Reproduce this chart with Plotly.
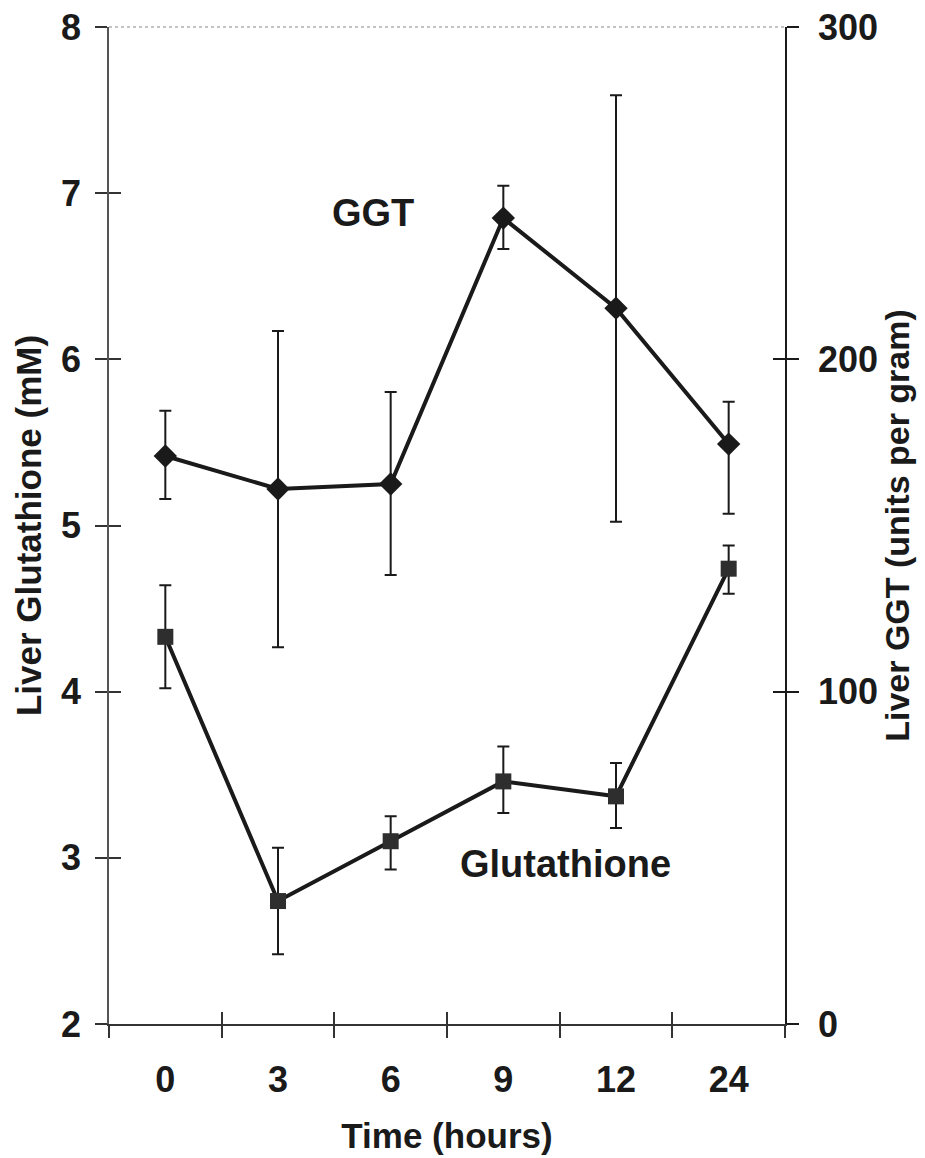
import plotly.graph_objects as go

# time points (hours), shown as evenly spaced categories
hours = ["0", "3", "6", "9", "12", "24"]
pos = [0, 1, 2, 3, 4, 5]

# liver glutathione (mM), left axis
gsh = [4.33, 2.74, 3.10, 3.46, 3.37, 4.74]
gsh_up = [0.31, 0.32, 0.15, 0.21, 0.20, 0.14]
gsh_down = [0.31, 0.32, 0.17, 0.19, 0.19, 0.15]

# liver GGT (units per gram), right axis
ggt = [170.9, 161.0, 162.5, 242.5, 215.4, 174.5]
ggt_up = [13.6, 47.5, 27.7, 9.7, 64.1, 12.7]
ggt_down = [12.9, 47.6, 27.4, 9.3, 64.3, 21.0]

left_ticks = [2, 3, 4, 5, 6, 7, 8]
right_ticks = [0, 100, 200, 300]
bounds = [-0.5, 0.5, 1.5, 2.5, 3.5, 4.5, 5.5]

FONT = "Liberation Sans, Arial, sans-serif"
INK = "#1a1a1a"

fig = go.Figure()

fig.add_trace(go.Scatter(
    x=pos, y=gsh, mode="lines+markers", name="Glutathione",
    line=dict(color=INK, width=4),
    marker=dict(symbol="square", size=16, color="#2e2e2e"),
    error_y=dict(type="data", symmetric=False, array=gsh_up, arrayminus=gsh_down,
                 color=INK, thickness=2, width=6),
    xaxis="x", yaxis="y",
))
fig.add_trace(go.Scatter(
    x=pos, y=ggt, mode="lines+markers", name="GGT",
    line=dict(color=INK, width=4),
    marker=dict(symbol="diamond", size=18, color=INK),
    error_y=dict(type="data", symmetric=False, array=ggt_up, arrayminus=ggt_down,
                 color=INK, thickness=2, width=6),
    xaxis="x", yaxis="y2",
))
# invisible helpers so the overlay axes (inward tick halves) get drawn
fig.add_trace(go.Scatter(x=[None], y=[None], xaxis="x2", yaxis="y3", showlegend=False))
fig.add_trace(go.Scatter(x=[None], y=[None], xaxis="x2", yaxis="y4", showlegend=False))

fig.add_annotation(x=1.84, y=6.88, xref="x", yref="y", text="<b>GGT</b>",
                   showarrow=False, font=dict(family=FONT, size=38, color=INK))
fig.add_annotation(x=3.55, y=2.96, xref="x", yref="y", text="<b>Glutathione</b>",
                   showarrow=False, font=dict(family=FONT, size=38, color=INK))

# dotted top border
fig.add_shape(type="line", xref="paper", yref="paper", x0=0, x1=1, y0=1, y1=1,
              line=dict(color="#888888", width=1, dash="dot"))

# page body adds an 8px margin, so the figure is 8px smaller than the window
fig.update_layout(
    width=917, height=1150,
    margin=dict(l=101, r=140, t=19, b=134),
    paper_bgcolor="white", plot_bgcolor="white",
    showlegend=False,
    font=dict(family=FONT, color=INK),
    xaxis=dict(
        range=[-0.5, 5.5], tickvals=pos, ticktext=[f"<b>{h}</b>" for h in hours],
        ticks="", showgrid=False, zeroline=False, automargin=False,
        showline=True, linecolor="#333333", linewidth=1.5,
        tickfont=dict(size=36), ticklabelstandoff=23, ticklabeloverflow="allow",
        minor=dict(tickvals=bounds, ticks="outside", ticklen=12, tickcolor="#333333", tickwidth=1.5),
        title=dict(text="<b>Time (hours)</b>", font=dict(size=35), standoff=25),
    ),
    xaxis2=dict(
        overlaying="x", range=[-0.5, 5.5], tickvals=bounds, ticks="inside", ticklen=12,
        tickcolor="#333333", tickwidth=1.5, showticklabels=False, showgrid=False,
        zeroline=False, showline=False, automargin=False,
    ),
    yaxis=dict(
        range=[2, 8], tickvals=left_ticks, ticktext=[f"<b>{v}</b>" for v in left_ticks],
        ticks="outside", ticklen=12, tickcolor="#333333", tickwidth=1.5, automargin=False,
        showgrid=False, zeroline=False, showline=True, linecolor="#555555", linewidth=1.5,
        tickfont=dict(size=36), ticklabelstandoff=7, ticklabeloverflow="allow",
        title=dict(text="<b>Liver Glutathione (mM)</b>", font=dict(size=35), standoff=9),
    ),
    yaxis2=dict(
        range=[0, 300], tickvals=right_ticks, ticktext=[f"<b>{v}</b>" for v in right_ticks],
        overlaying="y", side="right", anchor="x", automargin=False,
        ticks="outside", ticklen=12, tickcolor=INK, tickwidth=1.5,
        showgrid=False, zeroline=False, showline=True, linecolor=INK, linewidth=1.5,
        tickfont=dict(size=36), ticklabelstandoff=12, ticklabeloverflow="allow",
        title=dict(text="<b>Liver GGT (units per gram)</b>", font=dict(size=34), standoff=7),
    ),
    yaxis3=dict(
        overlaying="y", side="left", anchor="x2", range=[2, 8], tickvals=left_ticks,
        ticks="inside", ticklen=12, tickcolor="#333333", tickwidth=1.5, automargin=False,
        showticklabels=False, showgrid=False, zeroline=False, showline=False,
    ),
    yaxis4=dict(
        overlaying="y", side="right", anchor="x2", range=[0, 300], tickvals=right_ticks,
        ticks="inside", ticklen=12, tickcolor=INK, tickwidth=1.5, automargin=False,
        showticklabels=False, showgrid=False, zeroline=False, showline=False,
    ),
)

fig.write_html("out.html")
